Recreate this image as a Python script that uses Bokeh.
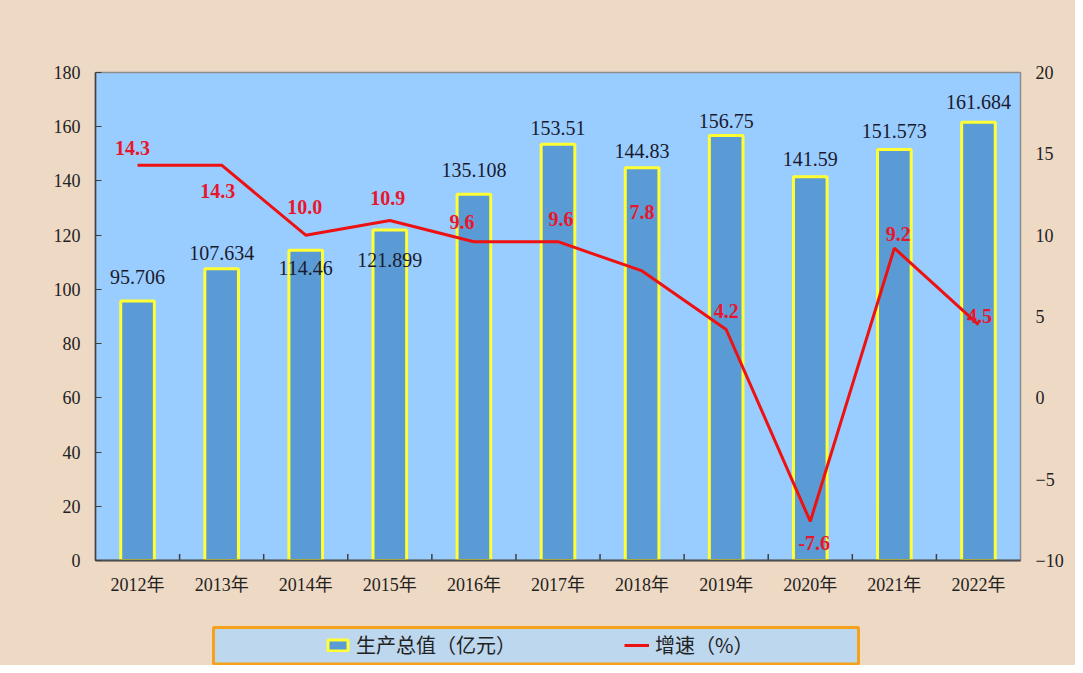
from bokeh.plotting import figure
from bokeh.layouts import column
from bokeh.models import (Range1d, LinearAxis, FixedTicker, ColumnDataSource, Legend, LegendItem)
from bokeh.embed import file_html
from bokeh.resources import INLINE
from bokeh.core.properties import value

# ---- data ----
years = ["2012年", "2013年", "2014年", "2015年", "2016年", "2017年",
         "2018年", "2019年", "2020年", "2021年", "2022年"]
output_value = [95.706, 107.634, 114.46, 121.899, 135.108, 153.51,
                144.83, 156.75, 141.59, 151.573, 161.684]
output_text = ["95.706", "107.634", "114.46", "121.899", "135.108", "153.51",
               "144.83", "156.75", "141.59", "151.573", "161.684"]
growth = [14.3, 14.3, 10.0, 10.9, 9.6, 9.6, 7.8, 4.2, -7.6, 9.2, 4.5]
growth_text = ["14.3", "14.3", "10.0", "10.9", "9.6", "9.6", "7.8", "4.2", "-7.6", "9.2", "4.5"]
left_ticks = [0, 20, 40, 60, 80, 100, 120, 140, 160, 180]
right_ticks = [-10, -5, 0, 5, 10, 15, 20]
legend_labels = ["生产总值（亿元）", "增速（%）"]

# label placement styles (pixel offsets)
val_dx = [0, 0, 0, 0, 0, 0, 0, 0, 0, 0, 0]
val_dy = [-24, -16, 18, 30, -24, -16, -17, -15, -18, -19, -20]
gr_dx = [-5, -4, -1, -2, -12, 3, 0, 0, 4, 4, 1]
gr_dy = [-17, 26, -28, -23, -20, -23, -59, -19, 22, -14, -9]

n = len(years)
xc = [i + 0.5 for i in range(n)]

SERIF = "Liberation Serif, Noto Sans CJK SC"
BG = "#eed9c4"
BAR_FILL = "#5b9bd5"
BAR_LINE = "#ffff33"
LINE_COL = "#ee1111"

p = figure(width=1075, height=610, output_backend="svg", toolbar_location=None,
           x_range=Range1d(0, n), y_range=Range1d(0, 180),
           min_border_left=95, min_border_top=72, min_border_right=55, min_border_bottom=50)
p.extra_y_ranges = {"g": Range1d(-10, 20)}
p.background_fill_color = "#99ccff"
p.border_fill_color = BG
p.outline_line_color = "#8c8c8c"
p.outline_line_width = 1.5
p.xgrid.grid_line_color = None
p.ygrid.grid_line_color = None

# x axis: labels at category centers
xa = p.xaxis[0]
xa.ticker = FixedTicker(ticks=xc)
xa.major_label_overrides = {x: y for x, y in zip(xc, years)}
xa.major_tick_line_color = None
xa.minor_tick_line_color = None
xa.axis_line_color = "#505050"
xa.axis_line_width = 2
xa.major_label_text_font = SERIF
xa.major_label_text_font_size = "18px"
xa.major_label_text_color = "#222222"
xa.major_label_standoff = 8

ya = p.yaxis[0]
ya.ticker = FixedTicker(ticks=left_ticks)
ya.major_tick_in = 6
ya.major_tick_out = 0
ya.minor_tick_line_color = None
ya.axis_line_color = "#404040"
ya.axis_line_width = 1.5
ya.major_tick_line_color = "#404040"
ya.major_label_text_font = SERIF
ya.major_label_text_font_size = "18px"
ya.major_label_text_color = "#222222"
ya.major_label_standoff = 15

ra = LinearAxis(y_range_name="g", ticker=FixedTicker(ticks=right_ticks))
ra.major_tick_line_color = None
ra.minor_tick_line_color = None
ra.axis_line_color = None
ra.major_label_text_font = SERIF
ra.major_label_text_font_size = "18px"
ra.major_label_text_color = "#222222"
ra.major_label_standoff = 9
p.add_layout(ra, "right")

# boundary tick marks on x axis (pointing up)
bx = [float(i) for i in range(1, n)]
p.segment(x0=bx, y0=[0] * len(bx), x1=bx, y1=[2.4] * len(bx), line_color="#404040", line_width=1.5)

src = ColumnDataSource(dict(x=xc, v=output_value, vt=output_text, g=growth, gt=growth_text,
                            vdx=val_dx, vdy=val_dy, gdx=gr_dx, gdy=gr_dy))

p.vbar(x="x", top="v", width=0.4, bottom=0, source=src, fill_color=BAR_FILL,
       line_color=BAR_LINE, line_width=3)
p.line(x="x", y="g", y_range_name="g", source=src, line_color=LINE_COL, line_width=3)

p.text(x="x", y="v", text="vt", x_offset="vdx", y_offset="vdy", source=src,
       text_font=value("Liberation Serif"), text_font_size="20px", text_color="#1a1a2e",
       text_align="center", text_baseline="middle")
p.text(x="x", y="g", text="gt", x_offset="gdx", y_offset="gdy", source=src, y_range_name="g",
       text_font=value("Liberation Serif"), text_font_size="20px", text_font_style="bold",
       text_color="#e8162c", text_align="center", text_baseline="middle")

# ---- legend strip below the chart (screen-pixel ranges) ----
q = figure(width=1075, height=55, output_backend="svg", toolbar_location=None,
           x_range=Range1d(0, 925), y_range=Range1d(0, 55),
           x_axis_location=None, y_axis_location=None,
           min_border_left=95, min_border_right=55, min_border_top=0, min_border_bottom=0)
q.background_fill_color = BG
q.border_fill_color = BG
q.outline_line_color = None
q.xgrid.grid_line_color = None
q.ygrid.grid_line_color = None

# legend box
q.quad(left=[118], right=[763], bottom=[1.5], top=[38], fill_color="#bdd7ee",
       line_color="#f5a11c", line_width=3)

hidden = ColumnDataSource(dict(x=[-100], y=[-100]))
rb = q.vbar(x="x", top="y", width=1, source=hidden, fill_color=BAR_FILL,
            line_color=BAR_LINE, line_width=3)
rl = q.line(x="x", y="y", source=hidden, line_color=LINE_COL, line_width=3)

legend = Legend(items=[LegendItem(label=legend_labels[0], renderers=[rb]),
                       LegendItem(label=legend_labels[1], renderers=[rl])],
                orientation="horizontal", location=(230, 6))
legend.padding = 0
legend.margin = 0
legend.spacing = 108
legend.glyph_width = 25
legend.glyph_height = 14
legend.label_standoff = 6
legend.label_text_font = "Noto Sans CJK SC"
legend.label_text_font_size = "20px"
legend.label_text_color = "#222222"
legend.background_fill_alpha = 0
legend.border_line_color = None
q.add_layout(legend, "center")

layout = column(p, q, spacing=0, styles={"background-color": BG})
open("out.html", "w").write(file_html(layout, INLINE))
